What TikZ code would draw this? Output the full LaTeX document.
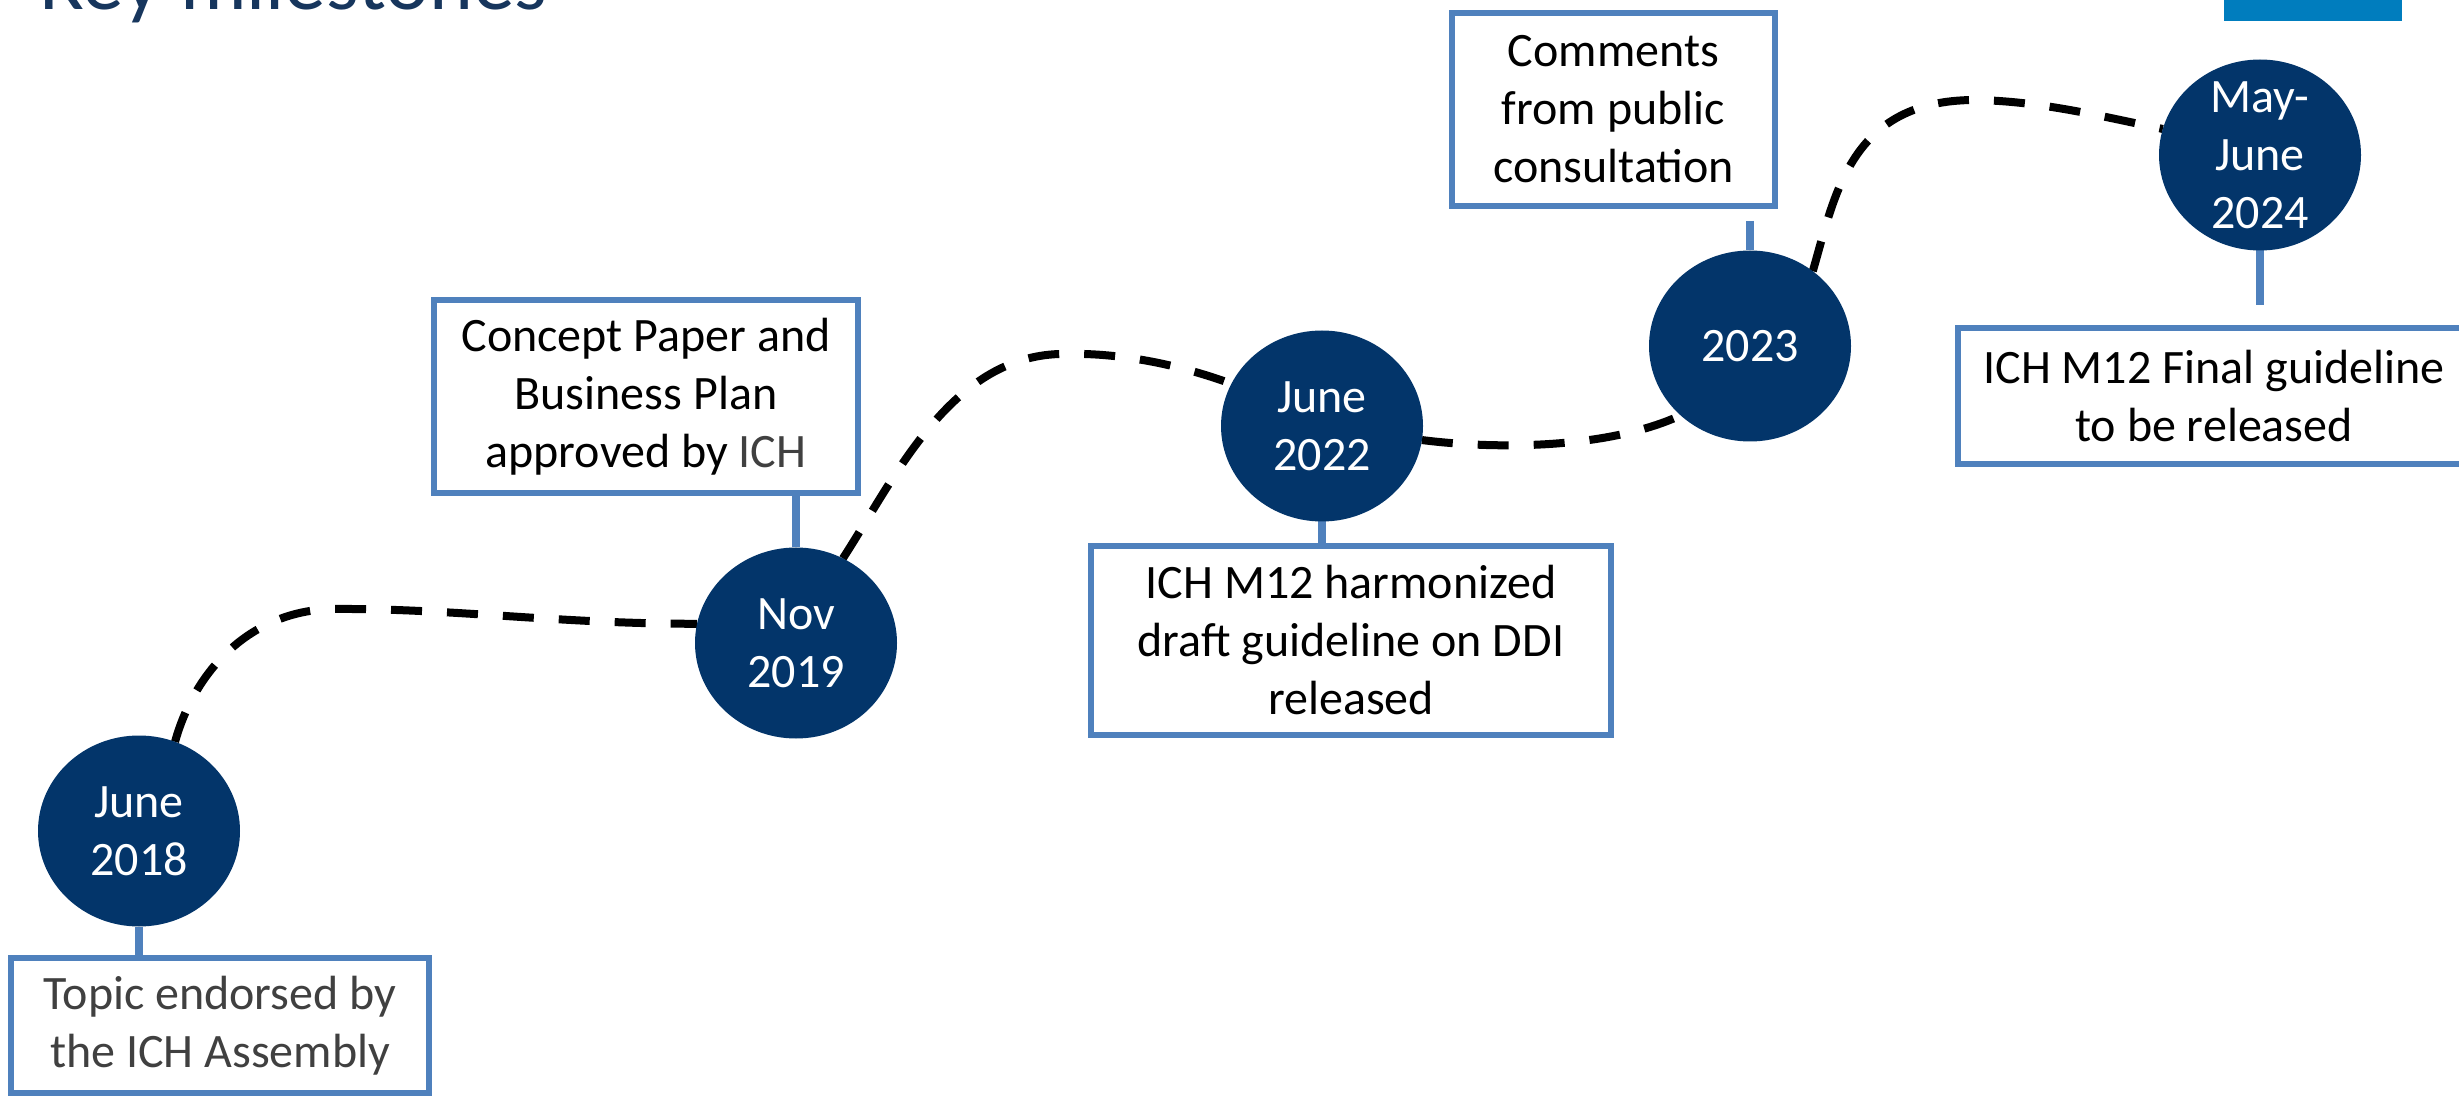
\documentclass[tikz,border=0pt]{standalone}
\usepackage{fontspec}
\setmainfont{Carlito}
\usetikzlibrary{shapes.geometric}
\definecolor{navy}{HTML}{03356A}
\definecolor{boxblue}{HTML}{4F81BD}
\definecolor{titleblue}{HTML}{17365D}
\definecolor{topblue}{HTML}{007DBE}
\definecolor{txtgray}{HTML}{404040}
\pgfdeclarelayer{bg}
\pgfsetlayers{bg,main}
\begin{document}
\begin{tikzpicture}[x=0.5pt,y=-0.5pt,
  milestone/.style={ellipse, fill=navy, minimum width=101pt, minimum height=95.5pt, inner sep=0pt, outer sep=0pt},
  datetext/.style={text=white, align=center, font=\fontsize{24}{29}\selectfont, inner sep=0pt},
  infobox/.style={draw=boxblue, line width=3pt, fill=white, align=center, font=\fontsize{24}{29}\selectfont, inner sep=0pt, outer sep=0pt},
  stem/.style={draw=boxblue, line width=4pt},
  trail/.style={draw=black, line width=4pt, dash pattern=on 15.5pt off 12.5pt}]

\useasboundingbox (0,0) rectangle (2459,1096);

% title and corner mark
\node[anchor=base west, inner sep=0pt, text=titleblue, font=\fontsize{41.75}{50}\selectfont] (title) at (40,10) {Key milestones};
\node[fill=topblue, anchor=north west, minimum width=89pt, minimum height=10.5pt, inner sep=0pt, outer sep=0pt] (logo) at (2224,0) {};

% milestone circles
\node[milestone] (c1) at (139,831) {};
\node[milestone] (c2) at (796,643) {};
\node[milestone] (c3) at (1322,426) {};
\node[milestone] (c4) at (1750,346) {};
\node[milestone] (c5) at (2260,155) {};

\node[datetext] (t1) at (c1.center) {June\\2018};
\node[datetext] (t2) at (c2.center) {Nov\\2019};
\node[datetext] (t3) at (c3.center) {June\\2022};
\node[datetext] (t4) at (c4.center) {2023};
\node[datetext] (t5) at (c5.center) {May-\\June\\2024};

% description boxes
\node[infobox, text=txtgray, minimum width=209pt, minimum height=67.5pt] (b1) at (220,1025.5) {Topic endorsed by\\the ICH Assembly};
\node[infobox, minimum width=212pt, minimum height=96.5pt] (b2) at (646,396.5) {Concept Paper and\\Business Plan\\approved by \textcolor{txtgray}{ICH}};
\node[infobox, minimum width=260pt, minimum height=94.5pt] (b3) at (1351,640.5) {ICH M12 harmonized\\draft guideline on DDI\\released};
\node[infobox, minimum width=161.5pt, minimum height=96.5pt] (b4) at (1613.5,109.5) {Comments\\from public\\consultation};
\node[infobox, minimum width=256pt, minimum height=68pt] (b5) at (2214,396) {ICH M12 Final guideline\\to be released};

\coordinate (k4) at (1750,221);
\coordinate (k5) at (2260,305);

\begin{pgfonlayer}{bg}
  % stems
  \draw[stem] (c1.south) -- (c1.south |- b1.north);
  \draw[stem] (c2.north) -- (c2.north |- b2.south);
  \draw[stem] (c3.south) -- (c3.south |- b3.north);
  \draw[stem] (k4) -- (c4.north);
  \draw[stem] (c5.south) -- (k5);
  % dashed trail
  \draw[trail] (c1.68) .. controls (195,670) and (250,612) .. (330,609)
               .. controls (450,608) and (560,624) .. (c2.169);
  \draw[trail] (c2.61) .. controls (895,478) and (950,357) .. (1060,354)
               .. controls (1120,352) and (1180,365) .. (c3.155);
  \draw[trail] (c3.-8) .. controls (1500,450) and (1610,448) .. (c4.225);
  \draw[trail] (c4.50) .. controls (1835,195) and (1850,100) .. (1975,100)
               .. controls (2040,101) and (2100,116) .. (c5.165);
\end{pgfonlayer}
\end{tikzpicture}
\end{document}
